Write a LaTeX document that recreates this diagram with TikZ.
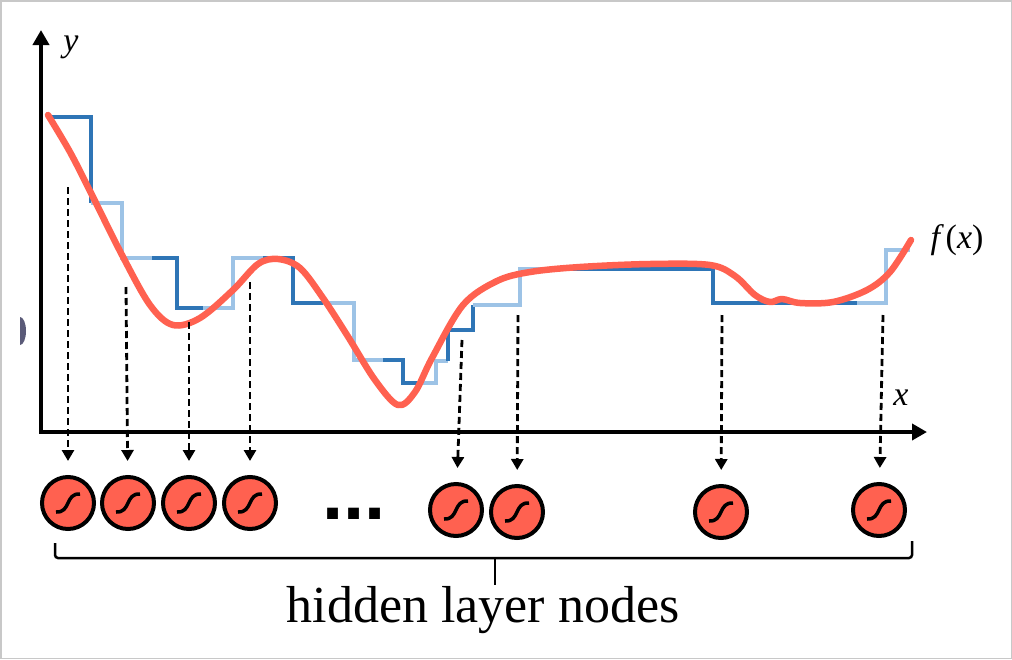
\documentclass[tikz,border=0pt]{standalone}
\usepackage{fontspec}
\setmainfont{Liberation Serif}
\newfontfamily\fuentePuntos{Liberation Sans}
\usepackage{tikz}
\usepackage{xcolor}
\usetikzlibrary{arrows.meta, calc, positioning}
\definecolor{azulOscuro}{HTML}{2E75B6}
\definecolor{azulClaro}{HTML}{9DC3E6}
\definecolor{rojoCurva}{HTML}{FF6150}
\definecolor{grisMarco}{HTML}{C8C8C8}
\definecolor{grisMancha}{HTML}{5A5A78}

\begin{document}
\begin{tikzpicture}[
  x=1pt, y=-1pt,
  % Estilos de ejes y trazos
  eje/.style={
    line width=4.5pt,
    {Triangle[length=15pt, width=16pt]}-{Triangle[length=15pt, width=16pt]}
  },
  escalonOscuro/.style={draw=azulOscuro, line width=4.5pt},
  escalonClaro/.style={draw=azulClaro, line width=4.5pt},
  curvaRoja/.style={
    draw=rojoCurva, line width=6.5pt,
    line cap=round, line join=round
  },
  % Estilo de nodos ocultos
  nodoOculto/.style={
    circle, draw=black, fill=rojoCurva,
    line width=4pt, minimum size=52pt, inner sep=0pt,
    path picture={
      \draw[line width=3.5pt]
        ($(path picture bounding box.center)+(-12,9)$)
        .. controls ($(path picture bounding box.center)+(3,10)$)
        and ($(path picture bounding box.center)+(-3,-10)$)
        .. ($(path picture bounding box.center)+(12,-9)$);
    }
  },
  % Estilo de flechas
  flechaDisc/.style={
    line width=2.8pt, dash pattern=on 7pt off 4pt,
    -{Triangle[length=11pt, width=12pt]}, shorten >=14pt
  },
  etiqEje/.style={font=\fontsize{34}{40}\selectfont\itshape}
]

\useasboundingbox (0,0) rectangle (1012,659);

% --- Marco ---
\draw[grisMarco, line width=1.5pt] (0.75,0.75) rectangle (1011.25,658.25);
\fill[grisMancha] (20,345) arc[start angle=90, end angle=-90, x radius=6, y radius=14];

% --- Ejes ---
\draw[eje] (41,30) -- (41,432) -- (927,432);
\node[etiqEje] (ejeY) at (71,47) {y};
\node[etiqEje] (ejeX) at (901,398) {x};

% --- Funcion escalonada ---
\draw[escalonOscuro] (50,117) -- (91,117) -- (91,203);
\draw[escalonClaro]  (91,203) -- (122,203) -- (122,258) -- (152,258);
\draw[escalonOscuro] (152,258) -- (177,258) -- (177,308) -- (203,308);
\draw[escalonClaro]  (203,308) -- (233,308) -- (233,258) -- (263,258);
\draw[escalonOscuro] (263,258) -- (293,258) -- (293,303) -- (323,303);
\draw[escalonClaro]  (323,303) -- (354,303) -- (354,360) -- (383,360);
\draw[escalonOscuro] (383,360) -- (403,360) -- (403,383) -- (420,383);
\draw[escalonClaro]  (420,383) -- (436,383) -- (436,361) -- (448,361);
\draw[escalonOscuro] (448,361) -- (448,330) -- (473,330) -- (473,305);
\draw[escalonClaro]  (473,305) -- (520,305) -- (520,269) -- (565,269);
\draw[escalonOscuro] (565,269) -- (713,269) -- (713,303) -- (857,303);
\draw[escalonClaro]  (857,303) -- (886,303) -- (886,250) -- (910,250);

% --- Curva f(x) ---
\draw[curvaRoja] plot[smooth, tension=0.55] coordinates {
  (48,115) (70,152) (91,193) (122,255) (150,305) (173,325)
  (200,318) (233,290) (258,264) (278,259) (300,268) (323,298)
  (347,335) (375,380) (398,405) (415,392) (432,358) (463,305)
  (497,281) (530,272) (580,267) (650,264) (710,265) (735,276)
  (755,295) (770,302) (782,299) (800,303) (833,302) (867,290)
  (890,272) (911,240)};
\node[etiqEje] (fx) at (957,240) {f\,\textup{(}x\textup{)}};

% --- Nodos de la capa oculta ---
\node[nodoOculto] (h1) at (68,503) {};
\node[nodoOculto] (h2) at (128,503) {};
\node[nodoOculto] (h3) at (189,503) {};
\node[nodoOculto] (h4) at (250,503) {};
\node[nodoOculto] (h5) at (456,510) {};
\node[nodoOculto] (h6) at (517,512) {};
\node[nodoOculto] (h7) at (721,512) {};
\node[nodoOculto] (h8) at (879,510) {};
\node[font=\fontsize{76}{76}\selectfont\fuentePuntos\bfseries, anchor=base]
  (puntos) at (354,519) {...};

% --- Flechas discontinuas ---
\coordinate (d1) at (68,187);
\coordinate (d2) at (126,287);
\coordinate (d3) at (189,322);
\coordinate (d4) at (250,282);
\coordinate (d5) at (462,340);
\coordinate (d6) at (518,315);
\coordinate (d7) at (722,315);
\coordinate (d8) at (883,315);
\draw[flechaDisc] (d1) -- (h1);
\draw[flechaDisc] (d2) -- (h2);
\draw[flechaDisc] (d3) -- (h3);
\draw[flechaDisc] (d4) -- (h4);
\draw[flechaDisc] (d5) -- (h5);
\draw[flechaDisc] (d6) -- (h6);
\draw[flechaDisc] (d7) -- (h7);
\draw[flechaDisc] (d8) -- (h8);

% --- Llave y etiqueta ---
\draw[line width=2.5pt, rounded corners=3pt]
  (55,543) -- (55,558) -- (912,558) -- (912,541);
\draw[line width=2.5pt] (495,558) -- (495,585);
\node[font=\fontsize{52}{60}\selectfont, anchor=base]
  (etiqueta) at (483,622) {hidden layer nodes};

\end{tikzpicture}
\end{document}
